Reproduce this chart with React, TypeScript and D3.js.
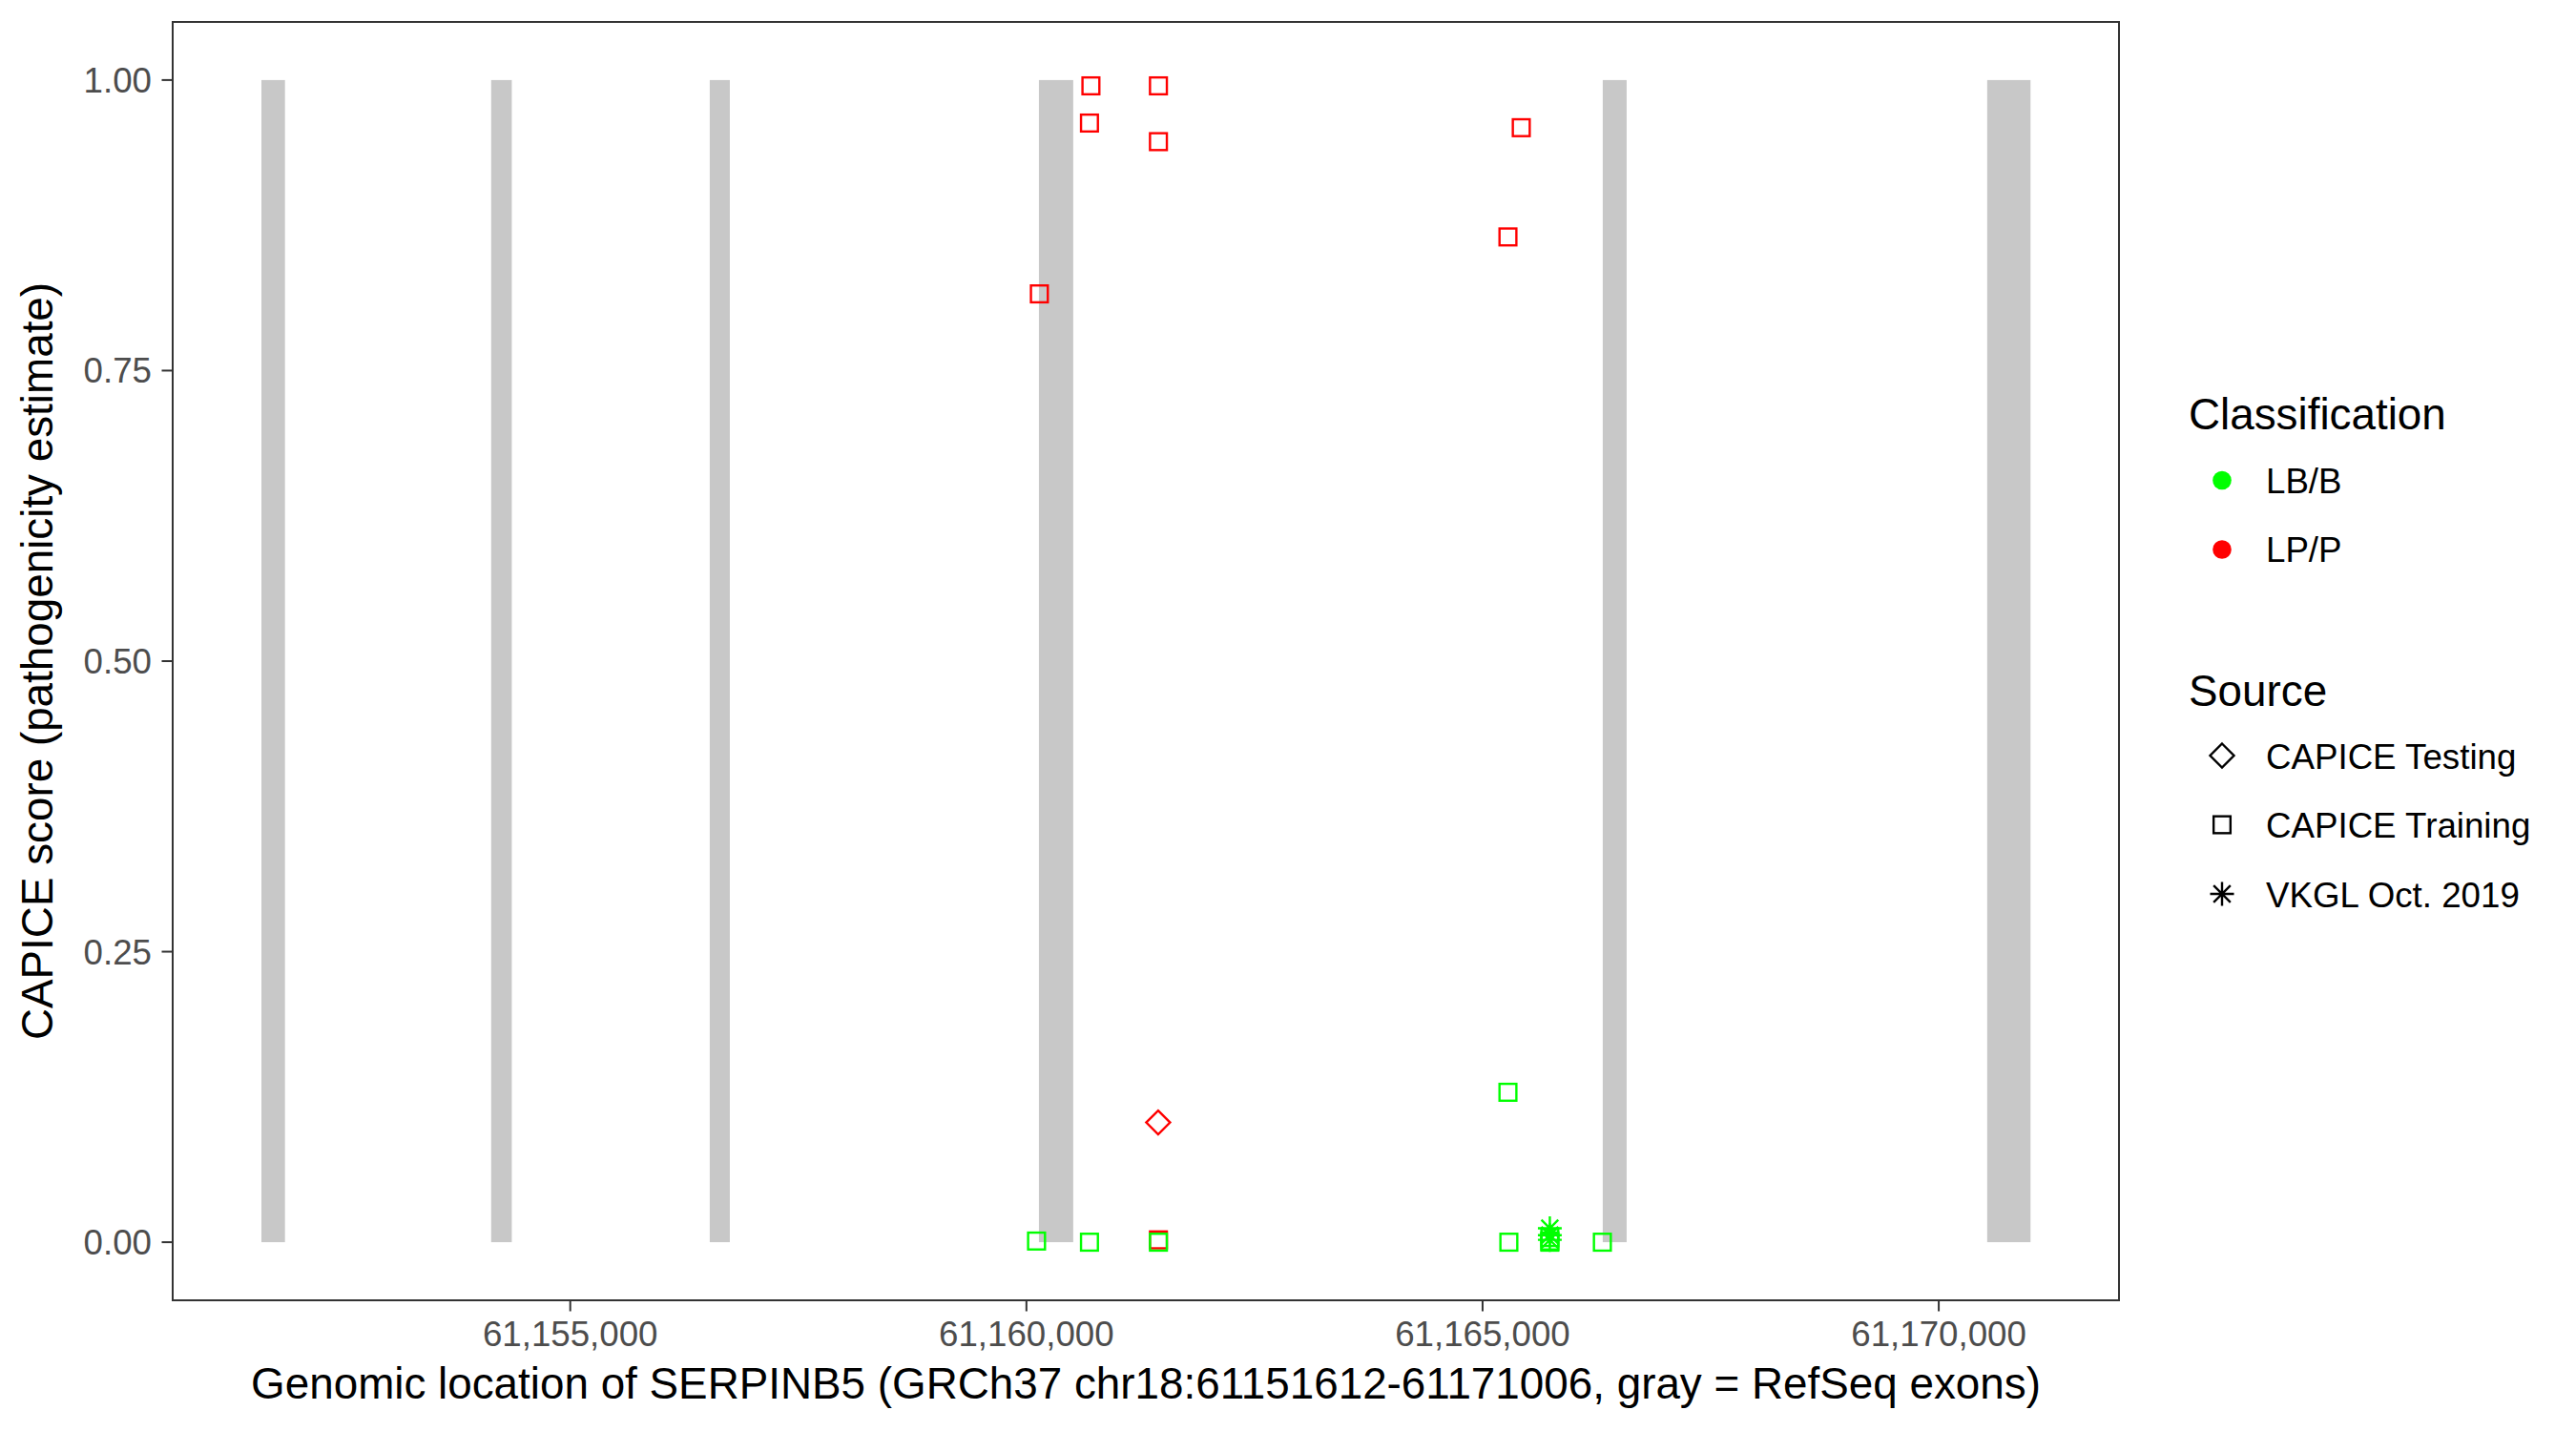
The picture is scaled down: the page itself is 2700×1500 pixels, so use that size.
import React from 'react';
import * as d3 from 'd3';

// gene window and RefSeq exons (SERPINB5, GRCh37 chr18)
const geneStart = 61151612;
const geneEnd = 61171006;
const exonStarts = [61151615, 61154133, 61156529, 61160137, 61166317, 61170531];
const exonEnds = [61151873, 61154359, 61156749, 61160513, 61166579, 61171006];

// variants, drawn in this order
const varPos = [
  61160707, 61161447, 61160691, 61161447, 61165424, 61165278, 61160142,
  61161444, 61161447,
  61160111, 61160691, 61161447, 61165278, 61165288,
  61165737, 61165737, 61165737, 61166313,
  61165737, 61165737, 61165737,
];
const varScore = [
  0.995, 0.995, 0.963, 0.947, 0.959, 0.865, 0.816,
  0.103, 0.002,
  0.001, 0.0, 0.0, 0.129, 0.0,
  0.004, 0.001, 0.0, 0.0,
  0.012, 0.006, 0.002,
];
const varClass = [
  'LP/P', 'LP/P', 'LP/P', 'LP/P', 'LP/P', 'LP/P', 'LP/P',
  'LP/P', 'LP/P',
  'LB/B', 'LB/B', 'LB/B', 'LB/B', 'LB/B',
  'LB/B', 'LB/B', 'LB/B', 'LB/B',
  'LB/B', 'LB/B', 'LB/B',
];
const varSource = [
  'CAPICE Training', 'CAPICE Training', 'CAPICE Training', 'CAPICE Training', 'CAPICE Training', 'CAPICE Training', 'CAPICE Training',
  'CAPICE Testing', 'CAPICE Training',
  'CAPICE Training', 'CAPICE Training', 'CAPICE Training', 'CAPICE Training', 'CAPICE Training',
  'CAPICE Training', 'CAPICE Training', 'CAPICE Training', 'CAPICE Training',
  'VKGL Oct. 2019', 'VKGL Oct. 2019', 'VKGL Oct. 2019',
];

const classLevels = ['LB/B', 'LP/P'];
const classColors = ['#00ff00', '#ff0000'];
const sourceLevels = ['CAPICE Testing', 'CAPICE Training', 'VKGL Oct. 2019'];

const xTicks = [61155000, 61160000, 61165000, 61170000];
const yTicks = [0, 0.25, 0.5, 0.75, 1];

const W = 2700;
const H = 1500;
const m = { left: 181, right: 2221, top: 23, bottom: 1363 };
const FONT = '"Liberation Sans", Arial, Helvetica, sans-serif';
const R = 8.84;

const color = d3.scaleOrdinal<string, string>().domain(classLevels).range(classColors);

function Marker({ shape, x, y, stroke }: { shape: string; x: number; y: number; stroke: string }) {
  const sw = 2.4;
  if (shape === 'CAPICE Testing') {
    const d = Math.SQRT2 * R;
    return (
      <path d={`M${x},${y - d}L${x + d},${y}L${x},${y + d}L${x - d},${y}Z`}
        fill="none" stroke={stroke} strokeWidth={sw} />
    );
  }
  if (shape === 'CAPICE Training') {
    return <rect x={x - R} y={y - R} width={2 * R} height={2 * R} fill="none" stroke={stroke} strokeWidth={sw} />;
  }
  const p = Math.SQRT2 * R;
  return (
    <path
      d={`M${x - p},${y}H${x + p}M${x},${y - p}V${y + p}M${x - R},${y - R}L${x + R},${y + R}M${x - R},${y + R}L${x + R},${y - R}`}
      fill="none" stroke={stroke} strokeWidth={sw} />
  );
}

export default function App() {
  const span = geneEnd - geneStart;
  const x = d3.scaleLinear()
    .domain([geneStart - 0.05 * span, geneEnd + 0.05 * span])
    .range([m.left, m.right]);
  const y = d3.scaleLinear().domain([-0.05, 1.05]).range([m.bottom, m.top]);
  const fmtX = d3.format(',');
  const fmtY = d3.format('.2f');

  const legX = 2329;
  const legLabelX = 2375;

  return (
    <svg width={W} height={H} style={{ position: 'absolute', left: 0, top: 0, background: '#fff' }}
      fontFamily={FONT}>
      <rect x={0} y={0} width={W} height={H} fill="#fff" />

      {exonStarts.map((s, i) => (
        <rect key={i} x={x(s)} y={y(1)} width={x(exonEnds[i]) - x(s)} height={y(0) - y(1)} fill="#c8c8c8" />
      ))}

      {varPos.map((p, i) => (
        <Marker key={i} shape={varSource[i]} x={x(p)} y={y(varScore[i])} stroke={color(varClass[i])} />
      ))}

      <rect x={m.left} y={m.top} width={m.right - m.left} height={m.bottom - m.top}
        fill="none" stroke="#333333" strokeWidth={2} />

      {xTicks.map((t) => (
        <g key={t}>
          <line x1={x(t)} x2={x(t)} y1={m.bottom} y2={m.bottom + 11.5} stroke="#333333" strokeWidth={2} />
          <text x={x(t)} y={1411} textAnchor="middle" fontSize={36.7} fill="#4d4d4d">{fmtX(t)}</text>
        </g>
      ))}
      {yTicks.map((t) => (
        <g key={t}>
          <line x1={m.left - 11.5} x2={m.left} y1={y(t)} y2={y(t)} stroke="#333333" strokeWidth={2} />
          <text x={159} y={y(t) + 13} textAnchor="end" fontSize={36.7} fill="#4d4d4d">{fmtY(t)}</text>
        </g>
      ))}

      <text x={(m.left + m.right) / 2} y={1466} textAnchor="middle" fontSize={45.8} fill="#000">
        Genomic location of SERPINB5 (GRCh37 chr18:61151612-61171006, gray = RefSeq exons)
      </text>
      <text transform={`translate(55,${(m.top + m.bottom) / 2}) rotate(-90)`} textAnchor="middle"
        fontSize={45.8} fill="#000">
        CAPICE score (pathogenicity estimate)
      </text>

      <text x={2294} y={450} fontSize={45.8} fill="#000">Classification</text>
      {classLevels.map((c, i) => (
        <g key={c}>
          <circle cx={legX} cy={503.5 + i * 72.5} r={9.8} fill={color(c)} />
          <text x={legLabelX} y={516.5 + i * 72.5} fontSize={36.7} fill="#000">{c}</text>
        </g>
      ))}

      <text x={2294} y={740} fontSize={45.8} fill="#000">Source</text>
      {sourceLevels.map((s, i) => (
        <g key={s}>
          <Marker shape={s} x={legX} y={792 + i * 72.5} stroke="#000" />
          <text x={legLabelX} y={805.5 + i * 72.5} fontSize={36.7} fill="#000">{s}</text>
        </g>
      ))}
    </svg>
  );
}
